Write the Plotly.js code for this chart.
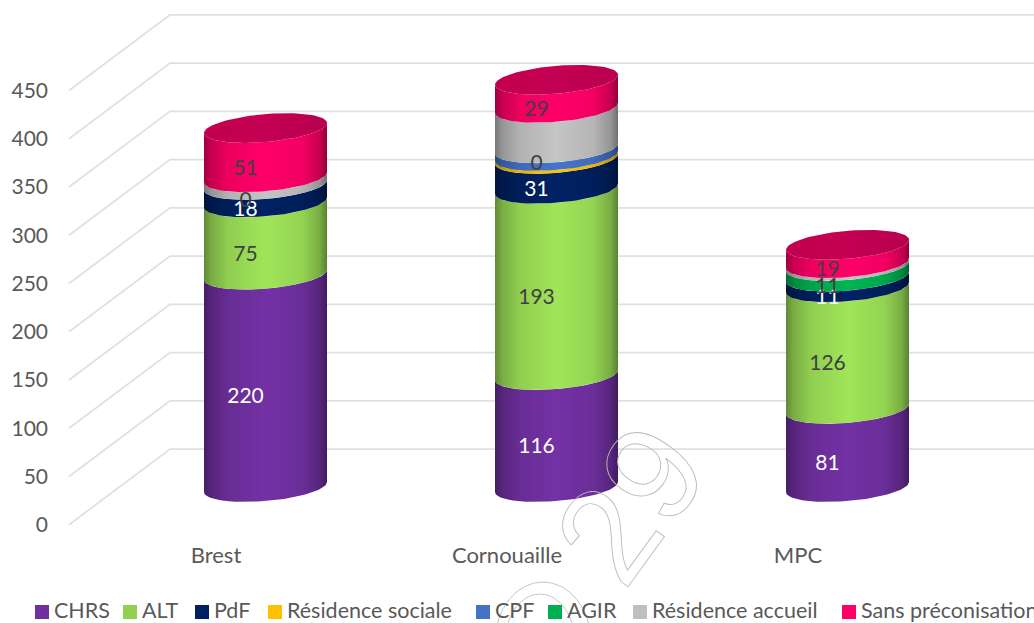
<!DOCTYPE html>
<html>
<head>
<meta charset="utf-8">
<script src="https://cdn.plot.ly/plotly-3.0.1.min.js"></script>
<style>html,body{margin:0;padding:0;background:#fff;overflow:hidden}#chart{width:1034px;height:623px}</style>
</head>
<body>
<div id="chart"></div>
<script>
// ---------- data ----------
const categories = ['Brest', 'Cornouaille', 'MPC'];
const seriesNames = ['CHRS', 'ALT', 'PdF', 'Résidence sociale', 'CPF', 'AGIR', 'Résidence accueil', 'Sans préconisation'];
const chrs = [220, 116, 81];
const alt = [75, 193, 126];
const pdf = [18, 31, 11];
const residenceSociale = [null, 3, null];
const cpf = [0, 8, null];
const agir = [null, 0, 11];
const residenceAccueil = [8, 42, 3];
const sansPreconisation = [51, 29, 19];
const labelled = [[1,1,1],[1,1,1],[1,1,1],[0,0,0],[1,0,0],[0,1,1],[0,0,0],[1,1,1]];
const yTicks = [0, 50, 100, 150, 200, 250, 300, 350, 400, 450];
const seriesColors = ['#7030A0', '#9BDE56', '#002060', '#FFC000', '#4472C4', '#00B050', '#BFBFBF', '#FF0066'];
const swatchColors = ['#7030A0', '#92D050', '#002060', '#FFC000', '#4472C4', '#00B050', '#BFBFBF', '#FF0066'];
const labelColors = ['#FFFFFF', '#404040', '#FFFFFF', '#404040', '#404040', '#404040', '#404040', '#404040'];
const allSeries = [chrs, alt, pdf, residenceSociale, cpf, agir, residenceAccueil, sansPreconisation];

// ---------- geometry of the pseudo-3D scene ----------
const W = 1034, H = 623, L = 68, B = 540;
const pxX = 291, pxY = 0.965;                 // pixels per category / per value
const x0px = 216, y0px = 524.7, base0px = 487; // category 0, front-plane zero, cylinder base
const toX = p => (p - x0px) / pxX;
const depthY = 78.3, depthX = toX(170);
const frontX = toX(69), endX = toX(1040);
const cxOff = 49.5 / pxX, a = 61.5 / pxX, tilt = 5.2, b = 14.5;
const labelDx = -20 / pxX, labelDy = -17.5;
const legendX = [35, 123, 195, 268, 476, 548, 633, 842];
const paperX = p => (p - L) / (W - L);
const paperY = p => (B - p) / B;

function shade(hex, k) {
  const n = parseInt(hex.slice(1), 16);
  const c = [(n >> 16) & 255, (n >> 8) & 255, n & 255].map(v => Math.max(0, Math.min(255, Math.round(v * k))));
  return `rgb(${c[0]},${c[1]},${c[2]})`;
}
function ramp(hex) {
  return [[0, shade(hex, .62)], [.06, shade(hex, .78)], [.2, shade(hex, .93)], [.5, shade(hex, 1.03)],
          [.8, shade(hex, .95)], [.94, shade(hex, .78)], [1, shade(hex, .58)]];
}
function arc(cx, v, reverse) {
  const xs = [], ys = [], n = 48;
  for (let i = 0; i <= n; i++) {
    const t = Math.PI * (reverse ? i / n : 1 - i / n);
    xs.push(cx + a * Math.cos(t));
    ys.push(v + tilt * Math.cos(t) - b * Math.sin(t));
  }
  return [xs, ys];
}

const traces = [];
// perspective grid
const gx = [], gy = [];
yTicks.forEach(t => { gx.push(frontX, depthX, endX, null); gy.push(t, t + depthY, t + depthY, null); });
traces.push({x: gx, y: gy, mode: 'lines', line: {color: '#E0E0E0', width: 1.8}, hoverinfo: 'skip', showlegend: false, yaxis: 'y', xaxis: 'x', name: 'grid'});
categories.forEach((cat, ci) => {
  const cx = ci + cxOff;
  let level = 0;
  allSeries.forEach((vals, si) => {
    const v = vals[ci];
    if (v === null) return;
    if (v > 0) {
      const lo = arc(cx, level, false), hi = arc(cx, level + v, true);
      traces.push({
        x: lo[0].concat(hi[0]), y: lo[1].concat(hi[1]), yaxis: 'y2', mode: 'lines', fill: 'toself',
        line: {width: 0}, fillgradient: {type: 'horizontal', start: cx - a, stop: cx + a, colorscale: ramp(seriesColors[si])},
        name: seriesNames[si] + ' ' + cat, showlegend: false, hoverinfo: 'skip'
      });
    }
    level += v;
  });
  // top cap
  const capX = [], capY = [];
  for (let i = 0; i <= 96; i++) {
    const t = 2 * Math.PI * i / 96;
    capX.push(cx + a * Math.cos(t));
    capY.push(level + tilt * Math.cos(t) - b * Math.sin(t));
  }
  traces.push({
    x: capX, y: capY, yaxis: 'y2', mode: 'lines', fill: 'toself', line: {width: 0},
    fillgradient: {type: 'horizontal', start: cx - a, stop: cx + a,
      colorscale: [[0, '#C2004E'], [.5, '#C40052'], [1, '#B8004E']]},
    name: 'top ' + cat, showlegend: false, hoverinfo: 'skip'
  });
});
// value labels
allSeries.forEach((vals, si) => {
  const xs = [], ys = [], tx = [];
  categories.forEach((cat, ci) => {
    let level = 0;
    for (let k = 0; k < si; k++) level += allSeries[k][ci] || 0;
    const v = vals[ci];
    if (v !== null && labelled[si][ci]) {
      xs.push(ci + cxOff + labelDx); ys.push(level + v / 2 + labelDy); tx.push(String(v));
    }
  });
  if (xs.length) traces.push({x: xs, y: ys, text: tx, yaxis: 'y2', mode: 'text', textposition: 'middle center',
    textfont: {family: 'Lato', size: 21, color: labelColors[si]}, showlegend: false, hoverinfo: 'skip', cliponaxis: false, name: seriesNames[si]});
});

const annotations = seriesNames.map((s, i) => ({
  text: s, xref: 'paper', yref: 'paper', x: paperX(legendX[i] + 17), y: paperY(609.5), xanchor: 'left', yanchor: 'middle',
  showarrow: false, font: {family: 'Lato', size: 21.5, color: '#595959'}
}));
annotations.push({text: '29', xref: 'paper', yref: 'paper', x: paperX(630), y: paperY(504), showarrow: false, textangle: -54,
  font: {family: 'Liberation Sans', size: 136, color: 'rgba(0,0,0,0)'}, xanchor: 'center', yanchor: 'middle'});

const shapes = legendX.map((p, i) => ({
  type: 'rect', xref: 'paper', yref: 'paper', x0: paperX(p), x1: paperX(p + 14), y0: paperY(605), y1: paperY(619),
  fillcolor: swatchColors[i], line: {width: 0}
}));
[[495, 591, 582, 702], [505, 575, 594, 690]].forEach(e => shapes.push({
  type: 'circle', xref: 'paper', yref: 'paper', x0: paperX(e[0]), x1: paperX(e[1]), y0: paperY(e[2]), y1: paperY(e[3]),
  fillcolor: 'rgba(0,0,0,0)', line: {color: '#BDBDBD', width: 0.9}
}));

const layout = {
  width: W, height: H, margin: {l: L, r: 0, t: 0, b: H - B}, paper_bgcolor: '#fff', plot_bgcolor: '#fff',
  showlegend: false, hovermode: false,
  xaxis: {range: [toX(L), toX(W)], tickvals: categories.map((c, i) => i), ticktext: categories, showgrid: false, zeroline: false,
    showline: false, ticks: '', tickfont: {family: 'Lato', size: 22, color: '#595959'}},
  yaxis: {range: [(y0px - B) / pxY, y0px / pxY], tickvals: yTicks, showgrid: false, zeroline: false, showline: false, ticks: '',
    ticklabelstandoff: 19, tickfont: {family: 'Lato', size: 21, color: '#595959'}},
  yaxis2: {range: [(base0px - B) / pxY, base0px / pxY], overlaying: 'y', visible: false},
  annotations, shapes
};

Plotly.newPlot('chart', traces, layout, {displayModeBar: false, staticPlot: true}).then(() => {
  document.querySelectorAll('.annotation-text').forEach(n => {
    if (n.textContent === '29') {
      n.style.fill = 'none'; n.style.stroke = '#BDBDBD'; n.style.strokeWidth = '0.9px';
    }
  });
});
</script>
</body>
</html>
